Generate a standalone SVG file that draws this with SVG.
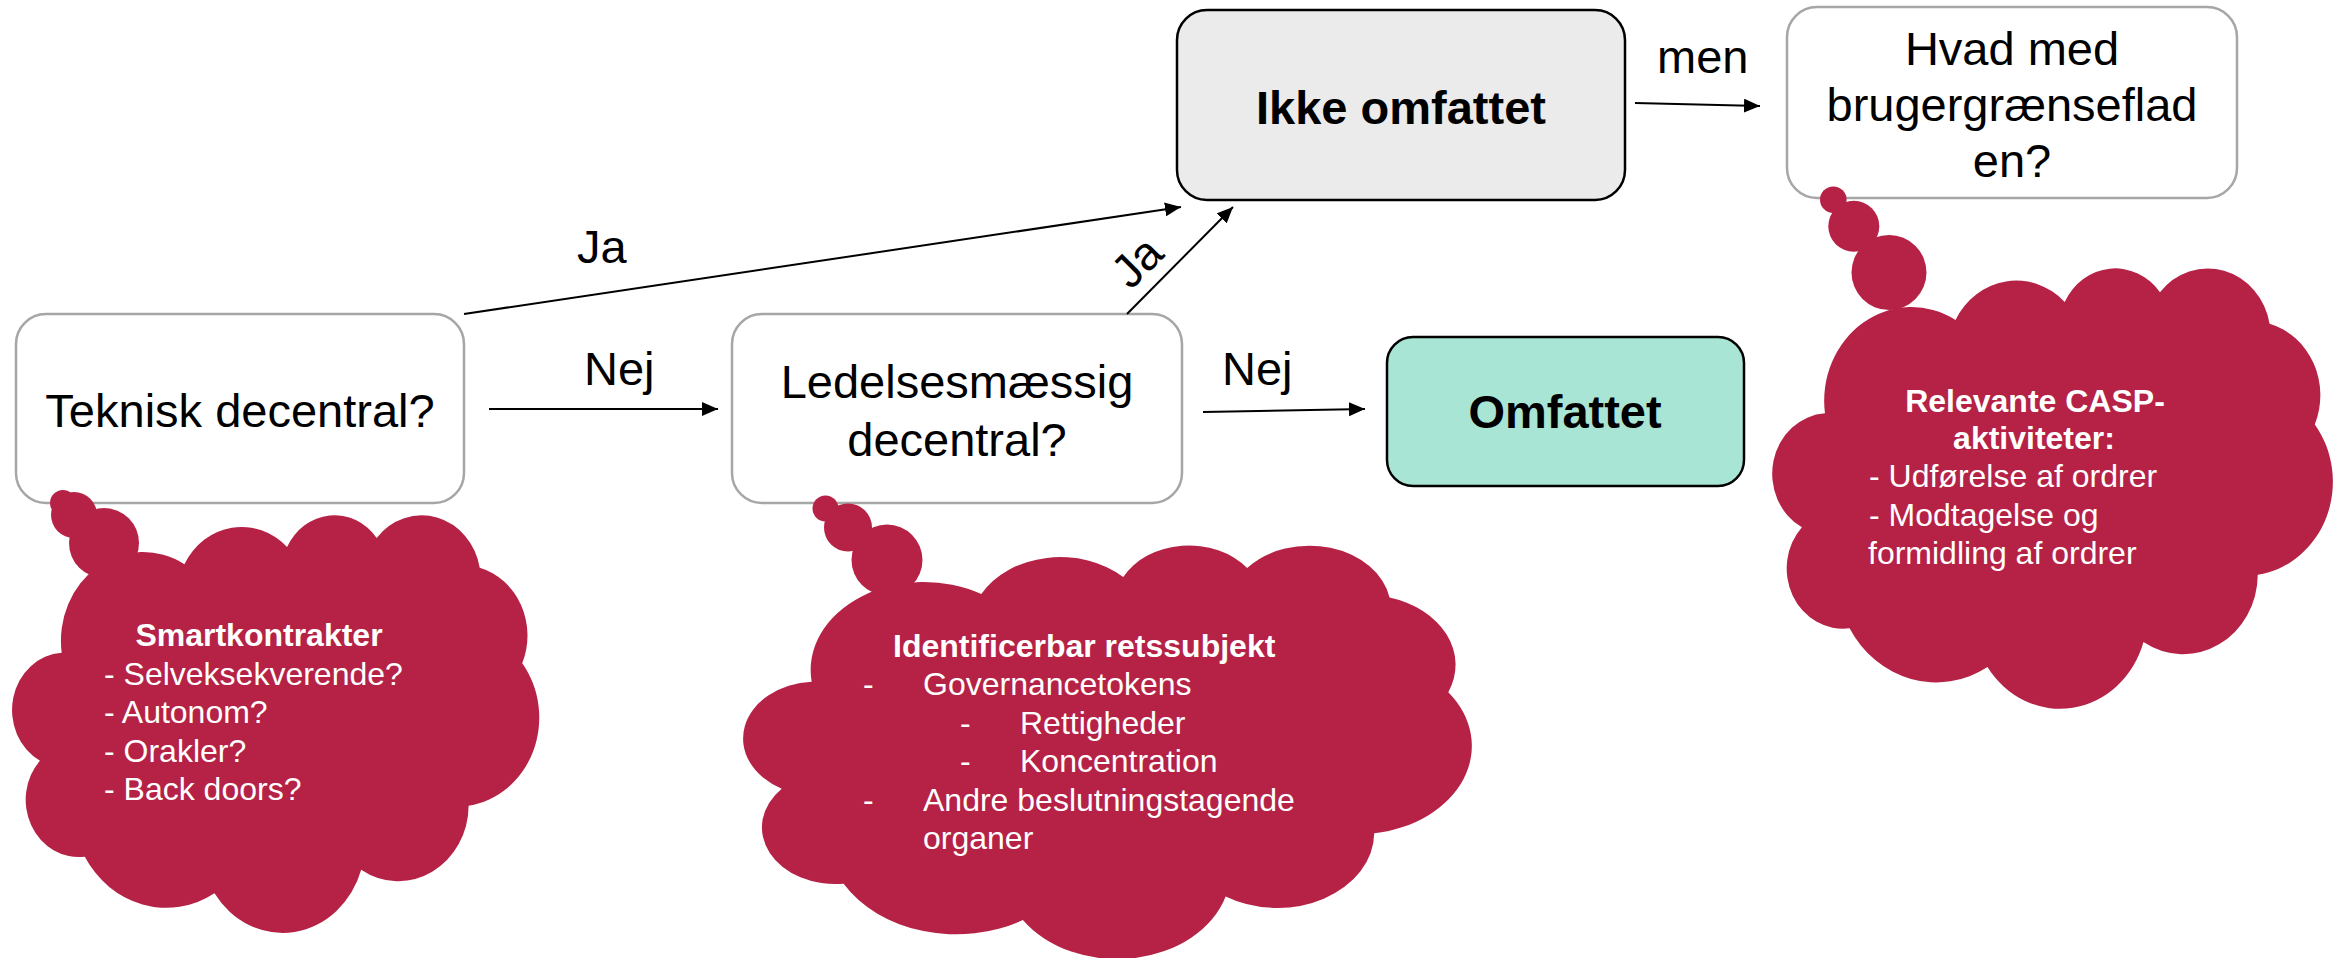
<svg xmlns="http://www.w3.org/2000/svg" width="2343" height="958" viewBox="0 0 2343 958">
<style>
text { font-family: "Liberation Sans", Arial, sans-serif; }
.box { fill:#ffffff; stroke:#a6a6a6; stroke-width:2.5; }
.res { stroke:#000000; stroke-width:2.5; }
.q { font-size:47px; fill:#000000; text-anchor:middle; }
.rt { font-size:47px; font-weight:bold; fill:#000000; text-anchor:middle; }
.lbl { font-size:47px; fill:#000000; }
.conn { stroke:#000000; stroke-width:2; fill:none; marker-end:url(#ah); }
.cloud { fill:#b52246; }
.ct { font-size:32px; fill:#ffffff; }
.ctb { font-size:32px; fill:#ffffff; font-weight:bold; }
</style>
<defs>
<marker id="ah" markerUnits="userSpaceOnUse" markerWidth="17" markerHeight="15" refX="16" refY="7" orient="auto" viewBox="0 0 17 15"><path d="M0,0 L16,7 L0,14 z" fill="#000000"/></marker>
<path id="cloudshape" d="M3900,14370 A6753,9190 0 0 1 14006,5203 A5333,7267 0 0 1 22458,3436 A4365,5945 0 0 1 29835,2485 A4857,6595 0 0 1 38320,5581 A5333,7273 0 0 1 41820,15465 A6775,9220 0 0 1 37406,30207 A5785,7867 0 0 1 28558,36818 A6752,9215 0 0 1 16481,39267 A7720,10543 0 0 1 5804,35472 A4360,5918 0 0 1 2114,25549 A4345,5945 0 0 1 3900,14370 Z"/>
</defs>

<g id="node-teknisk">
<rect class="box" x="16" y="314" width="448" height="189" rx="30" ry="30"/>
<text class="q" x="240" y="427">Teknisk decentral?</text>
</g>

<g id="node-ledelses">
<rect class="box" x="732" y="314" width="450" height="189" rx="30" ry="30"/>
<text class="q" x="957" y="398">Ledelsesmæssig</text>
<text class="q" x="957" y="456">decentral?</text>
</g>

<g id="node-ikke-omfattet">
<rect class="res" x="1177" y="10" width="448" height="190" rx="30" ry="30" fill="#ebebeb"/>
<text class="rt" x="1401" y="124">Ikke omfattet</text>
</g>

<g id="node-omfattet">
<rect class="res" x="1387" y="337" width="357" height="149" rx="26" ry="26" fill="#a9e5d5"/>
<text class="rt" x="1565" y="428">Omfattet</text>
</g>

<g id="node-hvad-med">
<rect class="box" x="1787" y="7" width="450" height="191" rx="30" ry="30"/>
<text class="q" x="2012" y="65">Hvad med</text>
<text class="q" x="2012" y="121">brugergrænseflad</text>
<text class="q" x="2012" y="177">en?</text>
</g>

<g id="connectors">
<line class="conn" x1="464" y1="314" x2="1181" y2="207"/>
<line class="conn" x1="1127" y1="314" x2="1233" y2="207"/>
<line class="conn" x1="489" y1="409" x2="718" y2="409"/>
<line class="conn" x1="1203" y1="412" x2="1365" y2="409"/>
<line class="conn" x1="1635" y1="103" x2="1760" y2="106"/>
<text class="lbl" x="577" y="263">Ja</text>
<text class="lbl" x="1137" y="262" text-anchor="middle" transform="rotate(-45 1137 262) translate(0 16)">Ja</text>
<text class="lbl" x="584" y="385">Nej</text>
<text class="lbl" x="1222" y="385">Nej</text>
<text class="lbl" x="1657" y="73">men</text>
</g>

<g id="cloud-smartkontrakter">
<use href="#cloudshape" class="cloud" transform="translate(14.3 513.9) scale(0.012146 0.009662)"/>
<circle class="cloud" cx="104" cy="543" r="35"/>
<circle class="cloud" cx="74" cy="515" r="23"/>
<circle class="cloud" cx="63" cy="503" r="13"/>
<text class="ctb" x="259" y="646" text-anchor="middle">Smartkontrakter</text>
<text class="ct" x="104" y="685">- Selveksekverende?</text>
<text class="ct" x="104" y="723">- Autonom?</text>
<text class="ct" x="104" y="762">- Orakler?</text>
<text class="ct" x="104" y="800">- Back doors?</text>
</g>

<g id="cloud-retssubjekt">
<use href="#cloudshape" class="cloud" transform="translate(746.2 544.2) scale(0.016789 0.009569)"/>
<circle class="cloud" cx="887" cy="560" r="35.5"/>
<circle class="cloud" cx="848" cy="527.5" r="24"/>
<circle class="cloud" cx="825.5" cy="508.5" r="13"/>
<text class="ctb" x="893" y="657">Identificerbar retssubjekt</text>
<text class="ct" x="863" y="695">-</text>
<text class="ct" x="923" y="695">Governancetokens</text>
<text class="ct" x="960" y="734">-</text>
<text class="ct" x="1020" y="734">Rettigheder</text>
<text class="ct" x="960" y="772">-</text>
<text class="ct" x="1020" y="772">Koncentration</text>
<text class="ct" x="863" y="811">-</text>
<text class="ct" x="923" y="811">Andre beslutningstagende</text>
<text class="ct" x="923" y="849">organer</text>
</g>

<g id="cloud-casp">
<use href="#cloudshape" class="cloud" transform="translate(1774.6 266.9) scale(0.012917 0.010190)"/>
<circle class="cloud" cx="1889" cy="272.5" r="37.5"/>
<circle class="cloud" cx="1853.8" cy="226.2" r="25.5"/>
<circle class="cloud" cx="1833.3" cy="199.7" r="13.3"/>
<text class="ctb" x="2035" y="412" text-anchor="middle">Relevante CASP-</text>
<text class="ctb" x="2034" y="449" text-anchor="middle">aktiviteter:</text>
<text class="ct" x="1869" y="487">- Udførelse af ordrer</text>
<text class="ct" x="1869" y="526">- Modtagelse og</text>
<text class="ct" x="1868" y="564">formidling af ordrer</text>
</g>
</svg>
